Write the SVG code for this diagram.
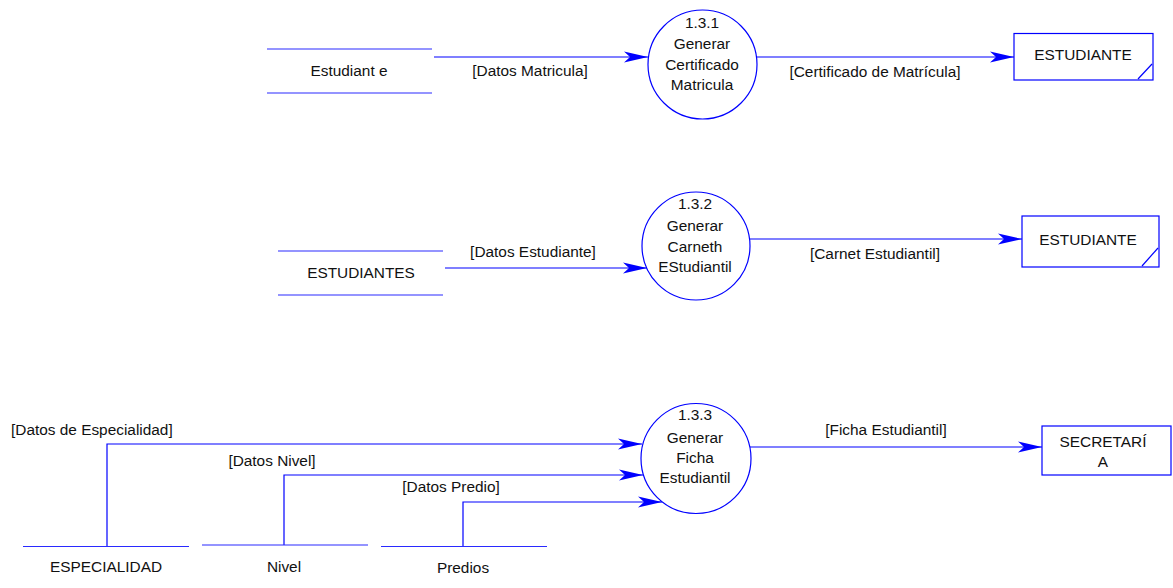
<svg xmlns="http://www.w3.org/2000/svg" width="1173" height="588" viewBox="0 0 1173 588">
<style>
text{font-family:"Liberation Sans",Arial,sans-serif;font-size:15.4px;fill:#111;text-anchor:middle}
.l{stroke:#0000ff;stroke-width:1.2;fill:none}
.s{stroke:#2a2aff;stroke-width:1.2;fill:none}
.p{stroke:#0000ff;stroke-width:1.2;fill:#fff}
.st{text-anchor:start}
</style>
<defs>
<marker id="a" viewBox="0 0 24 12" markerWidth="24" markerHeight="12" refX="24" refY="6" orient="auto" markerUnits="userSpaceOnUse">
<path d="M0,0.5 L24,6 L0,11.5 L6,6 Z" fill="#0000ff"/>
</marker>
</defs>
<g id="connectors">
<path class="l" d="M434,57 H648" marker-end="url(#a)"/>
<path class="l" d="M757,57 H1014" marker-end="url(#a)"/>
<path class="l" d="M445,268 H647" marker-end="url(#a)"/>
<path class="l" d="M750,239 H1022" marker-end="url(#a)"/>
<path class="l" d="M107,546 V444 H642" marker-end="url(#a)"/>
<path class="l" d="M284,545 V475 H643" marker-end="url(#a)"/>
<path class="l" d="M463,546 V502 H662" marker-end="url(#a)"/>
<path class="l" d="M750,447 H1042" marker-end="url(#a)"/>
<text x="530" y="76">[Datos Matricula]</text>
<text x="875" y="77">[Certificado de Matrícula]</text>
<text x="533" y="257">[Datos Estudiante]</text>
<text x="875" y="259">[Carnet Estudiantil]</text>
<text class="st" x="11" y="435">[Datos de Especialidad]</text>
<text x="272" y="466">[Datos Nivel]</text>
<text x="451" y="492">[Datos Predio]</text>
<text x="886" y="435">[Ficha Estudiantil]</text>
</g>
<g id="store-estudiante">
<path class="s" d="M267,49 H432 M267,93 H432"/>
<text x="349" y="76">Estudiant e</text>
</g>
<g id="p131">
<circle class="p" cx="702.5" cy="64.5" r="54.5"/>
<text x="702" y="28">1.3.1</text>
<text x="702" y="49">Generar</text>
<text x="702" y="70">Certificado</text>
<text x="702" y="90">Matricula</text>
</g>
<g id="ext-estudiante-1">
<rect class="p" x="1014" y="33.5" width="139" height="46.5"/>
<path class="l" d="M1152,64 L1138,79"/>
<text x="1083" y="60">ESTUDIANTE</text>
</g>
<g id="store-estudiantes">
<path class="s" d="M278,251 H443 M278,295 H443"/>
<text x="361" y="278">ESTUDIANTES</text>
</g>
<g id="p132">
<circle class="p" cx="696" cy="246" r="54"/>
<text x="695" y="209">1.3.2</text>
<text x="695" y="231">Generar</text>
<text x="695" y="252">Carneth</text>
<text x="695" y="272">EStudiantil</text>
</g>
<g id="ext-estudiante-2">
<rect class="p" x="1022" y="216" width="137" height="51"/>
<path class="l" d="M1158,248 L1142,266"/>
<text x="1088" y="245">ESTUDIANTE</text>
</g>
<g id="store-especialidad">
<path class="s" d="M23,546.5 H189"/>
<text x="106" y="572">ESPECIALIDAD</text>
</g>
<g id="store-nivel">
<path class="s" d="M202,545 H368"/>
<text x="284" y="572">Nivel</text>
</g>
<g id="store-predios">
<path class="s" d="M381,546.5 H547"/>
<text x="463" y="573">Predios</text>
</g>
<g id="p133">
<circle class="p" cx="696" cy="458.5" r="55"/>
<text x="695" y="420">1.3.3</text>
<text x="695" y="443">Generar</text>
<text x="695" y="463">Ficha</text>
<text x="695" y="483">Estudiantil</text>
</g>
<g id="ext-secretaria">
<rect class="p" x="1042" y="426" width="129" height="49"/>
<text x="1103" y="447">SECRETARÍ</text>
<text x="1103" y="467">A</text>
</g>
</svg>
